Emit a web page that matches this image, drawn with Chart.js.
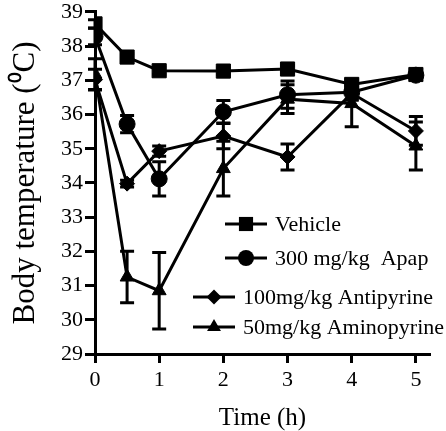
<!DOCTYPE html>
<html>
<head>
<meta charset="utf-8">
<script src="https://cdn.jsdelivr.net/npm/chart.js@4.4.0/dist/chart.umd.min.js"></script>
<style>
  body { margin: 0; background: #fff; }
  canvas { display: block; }
</style>
</head>
<body>
<canvas id="temp" width="446" height="431"></canvas>
<script>
// time points (h)
const times = [0, 0.5, 1, 2, 3, 4, 5];

const seriesNames = ['Vehicle', '300 mg/kg  Apap', '100mg/kg Antipyrine', '50mg/kg Aminopyrine'];

const vehicle = [38.65, 37.68, 37.28, 37.27, 37.33, 36.88, 37.17];
const vehicleErr = [0.12, 0.1, 0.1, 0.1, 0.1, 0.15, 0.1];

const apap = [38.28, 35.72, 34.12, 36.08, 36.58, 36.65, 37.15];
const apapErr = [0.24, 0.25, 0.5, 0.33, 0.4, 0.2, 0.1];

const antipyrine = [37.02, 33.98, 34.93, 35.37, 34.76, 36.62, 35.52];
const antipyrineErr = [0.3, 0.1, 0.15, 0.37, 0.38, 0.2, 0.42];

const aminopyrine = [37.18, 31.25, 30.85, 34.42, 36.45, 36.32, 35.08];
const aminopyrineErr = [0.45, 0.75, 1.12, 0.8, 0.42, 0.68, 0.7];

const xTicks = [0, 1, 2, 3, 4, 5];

const values = [vehicle, apap, antipyrine, aminopyrine];
const errors = [vehicleErr, apapErr, antipyrineErr, aminopyrineErr];
const styles = ['rect', 'circle', 'rectRot', 'triangle'];
const radii = [10, 8, 7.5, 8];

const FONT = '"Liberation Serif", "Times New Roman", serif';

function toPoints(arr) {
  return arr.map((v, i) => ({ x: times[i], y: v }));
}

// error bars drawn under the markers
const errorBars = {
  id: 'errorBars',
  beforeDatasetsDraw(chart) {
    const c = chart.ctx;
    const xs = chart.scales.x, ys = chart.scales.y;
    c.save();
    c.strokeStyle = '#000';
    c.lineWidth = 3;
    values.forEach((arr, s) => {
      arr.forEach((v, i) => {
        const e = errors[s][i];
        const px = xs.getPixelForValue(times[i]);
        const top = ys.getPixelForValue(v + e);
        const bot = ys.getPixelForValue(v - e);
        c.beginPath();
        c.moveTo(px, top); c.lineTo(px, bot);
        c.moveTo(px - 7, top); c.lineTo(px + 7, top);
        c.moveTo(px - 7, bot); c.lineTo(px + 7, bot);
        c.stroke();
      });
    });
    c.restore();
  }
};

function marker(c, style, x, y, r) {
  c.beginPath();
  if (style === 'rect') {
    const h = r * Math.SQRT1_2;
    c.rect(x - h, y - h, 2 * h, 2 * h);
  } else if (style === 'circle') {
    c.arc(x, y, r, 0, Math.PI * 2);
  } else if (style === 'rectRot') {
    c.moveTo(x - r, y); c.lineTo(x, y - r); c.lineTo(x + r, y); c.lineTo(x, y + r);
    c.closePath();
  } else {
    const h = r * Math.sqrt(3) / 2;
    c.moveTo(x - h, y + r / 2); c.lineTo(x, y - r); c.lineTo(x + h, y + r / 2);
    c.closePath();
  }
  c.fill();
}

// legend inside the plot, two entries indented
const legendBox = {
  id: 'legendBox',
  afterDraw(chart) {
    const c = chart.ctx;
    const pos = [[225, 224], [225, 258], [193, 297], [193, 327]];
    c.save();
    c.fillStyle = '#000';
    c.strokeStyle = '#000';
    c.lineWidth = 3;
    c.font = '22px ' + FONT;
    c.textBaseline = 'middle';
    seriesNames.forEach((name, i) => {
      const [x, y] = pos[i];
      c.beginPath();
      c.moveTo(x, y); c.lineTo(x + 42, y);
      c.stroke();
      marker(c, styles[i], x + 21, y, radii[i]);
      c.fillText(name, x + 50, y + 1);
    });
    c.restore();
  }
};

new Chart(document.getElementById('temp'), {
  type: 'line',
  data: {
    datasets: values.map((arr, i) => ({
      label: seriesNames[i],
      data: toPoints(arr),
      borderColor: '#000',
      backgroundColor: '#000',
      borderWidth: 3,
      pointStyle: styles[i],
      pointRadius: radii[i],
      pointBorderWidth: 1,
      tension: 0
    }))
  },
  options: {
    responsive: false,
    animation: false,
    devicePixelRatio: 1,
    layout: { padding: { top: 10, right: 16, left: 0, bottom: 0 } },
    plugins: {
      legend: { display: false },
      tooltip: { enabled: false }
    },
    scales: {
      x: {
        type: 'linear',
        min: 0,
        max: 5.22,
        afterBuildTicks: s => { s.ticks = xTicks.map(v => ({ value: v })); },
        afterFit: s => { s.height = 77; },
        border: { color: '#000', width: 3 },
        grid: { drawOnChartArea: false, tickLength: 9, tickWidth: 3, tickColor: '#000' },
        ticks: { color: '#000', padding: 7, font: { family: FONT, size: 22, lineHeight: 0.9 } },
        title: {
          display: true,
          text: 'Time (h)',
          color: '#000',
          padding: { top: 0, bottom: 0 },
          font: { family: FONT, size: 25, lineHeight: 1.0 }
        }
      },
      y: {
        min: 29,
        max: 39,
        afterFit: s => { s.width = 95; },
        border: { color: '#000', width: 3 },
        grid: { drawOnChartArea: false, tickLength: 10, tickWidth: 3, tickColor: '#000' },
        ticks: { stepSize: 1, color: '#000', padding: 2, font: { family: FONT, size: 22, lineHeight: 0.9 } },
        title: {
          display: true,
          text: 'Body temperature (\u2070C)',
          color: '#000',
          padding: { top: 7, bottom: 0 },
          font: { family: FONT, size: 31 }
        }
      }
    }
  },
  plugins: [errorBars, legendBox]
});
</script>
</body>
</html>
